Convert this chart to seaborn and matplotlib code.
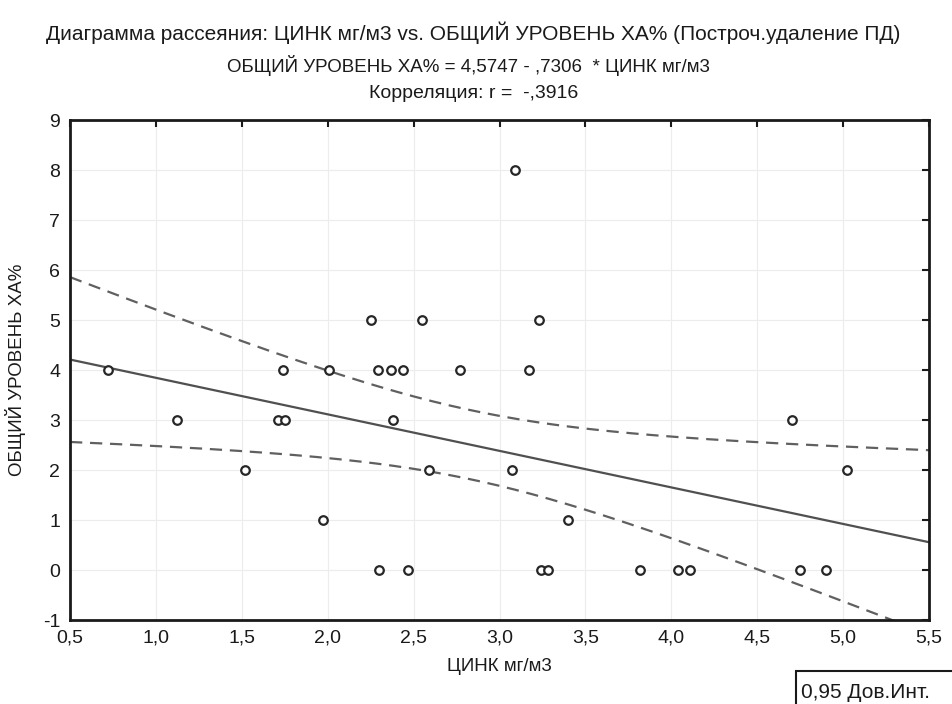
import matplotlib
matplotlib.use("Agg")
import matplotlib.pyplot as plt
import numpy as np
import pandas as pd
import seaborn as sns
from matplotlib.patches import Rectangle

# значения
zinc = [0.72, 1.12, 1.52, 1.74, 1.71, 1.75, 1.97, 2.01, 2.25, 2.29, 2.30, 2.37,
        2.38, 2.44, 2.47, 2.55, 2.59, 2.77, 3.09, 3.23, 3.17, 3.07, 3.40, 3.24,
        3.28, 3.82, 4.04, 4.11, 4.70, 4.75, 4.90, 5.02]
xa = [4, 3, 2, 4, 3, 3, 1, 4, 5, 4, 0, 4, 3, 4, 0, 5, 2, 4,
      8, 5, 4, 2, 1, 0, 0, 0, 0, 0, 3, 0, 0, 2]
intercept = 4.5747
slope = -0.7306
t_crit = 2.042  # t(0.975, 30)

xticks = [0.5, 1.0, 1.5, 2.0, 2.5, 3.0, 3.5, 4.0, 4.5, 5.0, 5.5]
xtick_labels = ["0,5", "1,0", "1,5", "2,0", "2,5", "3,0", "3,5", "4,0", "4,5", "5,0", "5,5"]
yticks = [-1, 0, 1, 2, 3, 4, 5, 6, 7, 8, 9]

title1 = "Диаграмма рассеяния: ЦИНК мг/м3 vs. ОБЩИЙ УРОВЕНЬ ХА% (Построч.удаление ПД)"
title2 = "ОБЩИЙ УРОВЕНЬ ХА% = 4,5747 - ,7306  * ЦИНК мг/м3"
title3 = "Корреляция: r =  -,3916"

df = pd.DataFrame({"x": zinc, "y": xa})

# линия регрессии и 95% доверительный интервал
x = np.array(zinc)
y = np.array(xa)
n = len(x)
resid = y - (intercept + slope * x)
s = np.sqrt(np.sum(resid ** 2) / (n - 2))
sxx = np.sum((x - x.mean()) ** 2)
grid = np.linspace(0.5, 5.5, 200)
fit = intercept + slope * grid
half = t_crit * s * np.sqrt(1 / n + (grid - x.mean()) ** 2 / sxx)
band = pd.DataFrame({"x": grid, "fit": fit, "lo": fit - half, "hi": fit + half})

sns.set_theme(style="white")
plt.rcParams["font.family"] = ["Liberation Sans", "DejaVu Sans"]
plt.rcParams["axes.unicode_minus"] = False

fig = plt.figure(figsize=(9.53, 7.04), dpi=100)
ax = fig.add_axes([0.0735, 0.1193, 0.9013, 0.7102])

sns.lineplot(data=band, x="x", y="fit", ax=ax, color="#505050", lw=1.6)
for col in ["lo", "hi"]:
    sns.lineplot(data=band, x="x", y=col, ax=ax, color="#606060", lw=1.6,
                 dashes=False, linestyle=(0, (5.5, 3.5)))
sns.scatterplot(data=df, x="x", y="y", ax=ax, marker="o", s=38,
                facecolor="white", edgecolor="#262626", linewidth=1.6, zorder=5)

ax.set_xlim(0.5, 5.5)
ax.set_ylim(-1, 9)
ax.set_xticks(xticks)
ax.set_xticklabels(xtick_labels)
ax.set_yticks(yticks)
ax.grid(True, color="#ececec", lw=0.8)
ax.tick_params(direction="in", length=5, width=1.5, top=True, right=True,
               labelsize=14, colors="#1a1a1a", pad=7)
for sp in ax.spines.values():
    sp.set_color("#1a1a1a")
    sp.set_linewidth(2)
ax.set_xlabel("ЦИНК мг/м3", fontsize=13.5, labelpad=8, color="#1a1a1a")
ax.set_ylabel("ОБЩИЙ УРОВЕНЬ ХА%", fontsize=13.5, labelpad=12, color="#1a1a1a")

fig.text(0.497, 1 - 33 / 704, title1, ha="center", va="center", fontsize=15, color="#1a1a1a")
fig.text(0.492, 1 - 65 / 704, title2, ha="center", va="center", fontsize=13.5, color="#1a1a1a")
fig.text(0.497, 1 - 94 / 704, title3, ha="center", va="center", fontsize=14, color="#1a1a1a")

# легенда, обрезанная краем рисунка
fig.patches.append(Rectangle((796 / 953, -0.05), 0.25, 0.05 + 33 / 704,
                             transform=fig.transFigure, fill=False,
                             edgecolor="#1a1a1a", lw=1.5))
fig.text(801 / 953, 12 / 704, "0,95 Дов.Инт.", ha="left", va="center",
         fontsize=15, color="#1a1a1a")

fig.savefig("out.png", dpi=100)
